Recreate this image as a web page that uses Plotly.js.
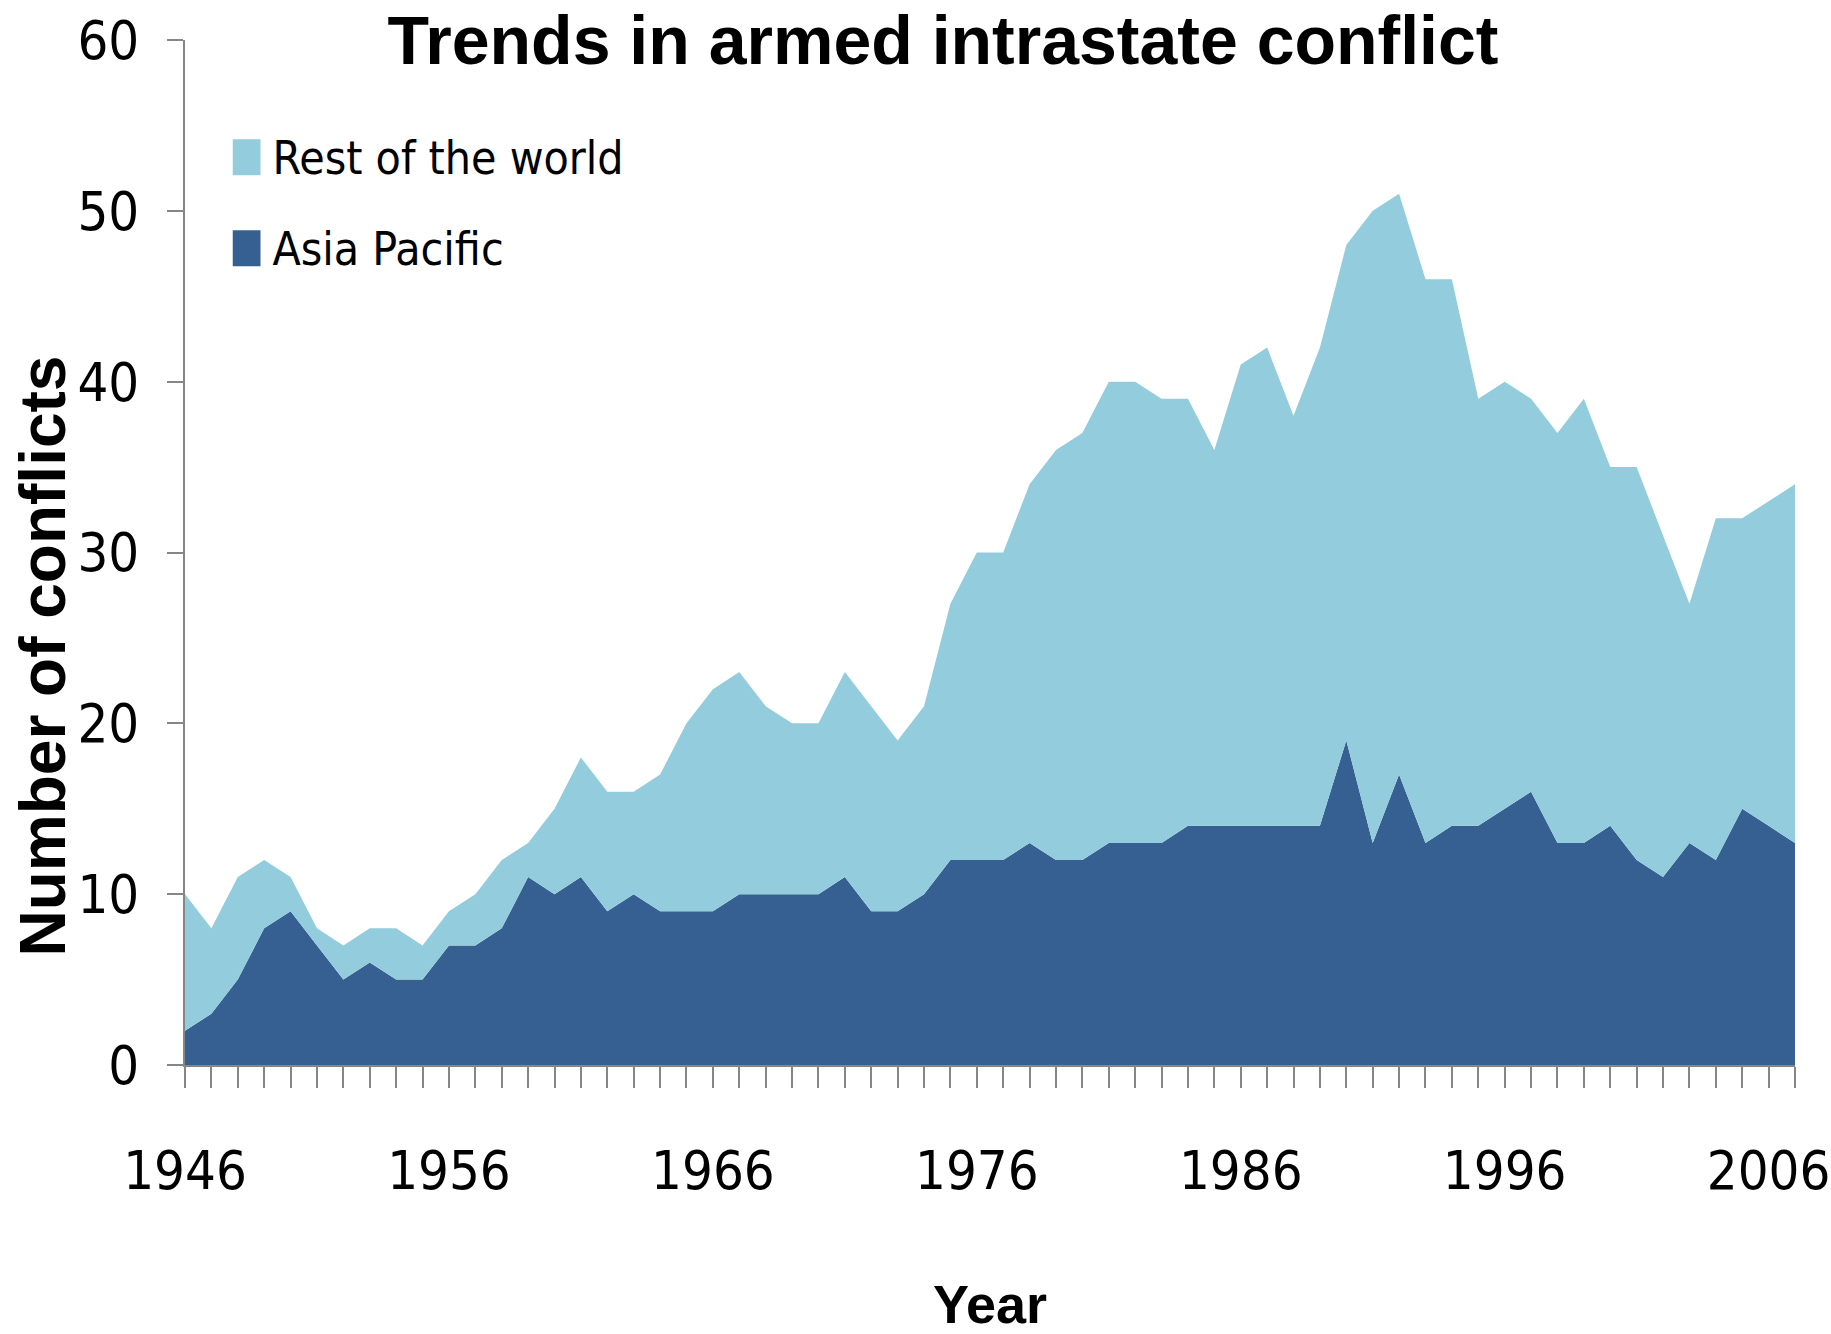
<!DOCTYPE html>
<html>
<head>
<meta charset="utf-8">
<script src="https://cdn.plot.ly/plotly-3.0.1.min.js"></script>
<style>
html, body { margin: 0; padding: 0; background: #ffffff; }
#chart { width: 1831px; height: 1334px; }
.legend .legendfill path { d: path('M0,-17h28v36h-28z'); }
</style>
</head>
<body>
<div id="chart"></div>
<script>
// Years (categories)
const years = [1946, 1947, 1948, 1949, 1950, 1951, 1952, 1953, 1954, 1955,
  1956, 1957, 1958, 1959, 1960, 1961, 1962, 1963, 1964, 1965,
  1966, 1967, 1968, 1969, 1970, 1971, 1972, 1973, 1974, 1975,
  1976, 1977, 1978, 1979, 1980, 1981, 1982, 1983, 1984, 1985,
  1986, 1987, 1988, 1989, 1990, 1991, 1992, 1993, 1994, 1995,
  1996, 1997, 1998, 1999, 2000, 2001, 2002, 2003, 2004, 2005,
  2006, 2007];

// Number of armed intrastate conflicts, Asia Pacific (bottom layer)
const asiaPacific = [2, 3, 5, 8, 9, 7, 5, 6, 5, 5,
  7, 7, 8, 11, 10, 11, 9, 10, 9, 9,
  9, 10, 10, 10, 10, 11, 9, 9, 10, 12,
  12, 12, 13, 12, 12, 13, 13, 13, 14, 14,
  14, 14, 14, 14, 19, 13, 17, 13, 14, 14,
  15, 16, 13, 13, 14, 12, 11, 13, 12, 15,
  14, 13];

// Number of armed intrastate conflicts, rest of the world (stacked on top)
const restOfWorld = [8, 5, 6, 4, 2, 1, 2, 2, 3, 2,
  2, 3, 4, 2, 5, 7, 7, 6, 8, 11,
  13, 13, 11, 10, 10, 12, 12, 10, 11, 15,
  18, 18, 21, 24, 25, 27, 27, 26, 25, 22,
  27, 28, 24, 28, 29, 37, 34, 33, 32, 25,
  25, 23, 24, 26, 21, 23, 20, 14, 20, 17,
  19, 21];

// Labelled ticks on the year axis
const tickYears = [1946, 1956, 1966, 1976, 1986, 1996, 2006];
const tickLabels = ['1946', '1956', '1966', '1976', '1986', '1996', '2006'];

const chartTitle = 'Trends in armed intrastate conflict';
const xTitle = 'Year';
const yTitle = 'Number of conflicts';

const narrowFont = '"Liberation Sans Narrow", "DejaVu Sans Condensed", "Liberation Sans", sans-serif';
const boldFont = '"Liberation Sans", Arial, sans-serif';
const axisGrey = '#868686';

const traces = [
  {
    x: years,
    y: asiaPacific,
    name: 'Asia Pacific',
    type: 'scatter',
    mode: 'none',
    stackgroup: 'conflicts',
    fill: 'tonexty',
    fillcolor: '#376092',
    legendgroup: 'ap',
    legendrank: 2,
    hoverinfo: 'x+y+name'
  },
  {
    x: years,
    y: restOfWorld,
    name: 'Rest of the world',
    type: 'scatter',
    mode: 'none',
    stackgroup: 'conflicts',
    fill: 'tonexty',
    fillcolor: '#93CDDD',
    legendgroup: 'rw',
    legendrank: 1,
    hoverinfo: 'x+y+name'
  }
];

const layout = {
  width: 1831,
  height: 1334,
  paper_bgcolor: '#ffffff',
  plot_bgcolor: '#ffffff',
  margin: { l: 184.5, r: 36, t: 40, b: 269 },
  title: {
    text: '<b>' + chartTitle + '</b>',
    font: { family: boldFont, size: 68, color: '#000000' },
    x: 0.515,
    xref: 'container',
    xanchor: 'center',
    y: 0.952,
    yref: 'container',
    yanchor: 'bottom'
  },
  showlegend: true,
  legend: {
    x: 0.0295,
    xanchor: 'left',
    y: 0.922,
    yanchor: 'top',
    traceorder: 'grouped',
    tracegroupgap: 28,
    bgcolor: 'rgba(0,0,0,0)',
    font: { family: narrowFont, size: 46, color: '#000000' }
  },
  xaxis: {
    type: 'linear',
    range: [1946, 2007],
    tickmode: 'array',
    tickvals: tickYears,
    ticktext: tickLabels,
    ticks: 'outside',
    ticklen: 21,
    tickwidth: 2,
    tickcolor: axisGrey,
    ticklabelstandoff: 36,
    ticklabeloverflow: 'allow',
    minor: { tick0: 1946, dtick: 1, ticks: 'outside', ticklen: 21, tickwidth: 2, tickcolor: axisGrey, showgrid: false },
    showline: true,
    linecolor: axisGrey,
    linewidth: 2,
    showgrid: false,
    zeroline: false,
    tickfont: { family: narrowFont, size: 54, color: '#000000' },
    title: {
      text: '<b>' + xTitle + '</b>',
      font: { family: boldFont, size: 54, color: '#000000' },
      standoff: 88
    }
  },
  yaxis: {
    range: [0, 60],
    tickmode: 'linear',
    tick0: 0,
    dtick: 10,
    ticks: 'outside',
    ticklen: 16,
    tickwidth: 2,
    tickcolor: axisGrey,
    ticklabelstandoff: 17,
    showline: true,
    linecolor: axisGrey,
    linewidth: 2,
    showgrid: false,
    zeroline: false,
    tickfont: { family: narrowFont, size: 54, color: '#000000' },
    title: { text: '' }
  },
  annotations: [
    {
      text: '<b>' + yTitle + '</b>',
      textangle: -90,
      xref: 'paper',
      yref: 'paper',
      x: -0.0879,
      y: 0.399,
      xanchor: 'center',
      yanchor: 'middle',
      showarrow: false,
      font: { family: boldFont, size: 64, color: '#000000' }
    }
  ]
};

Plotly.newPlot('chart', traces, layout, { displayModeBar: false });
</script>
</body>
</html>
